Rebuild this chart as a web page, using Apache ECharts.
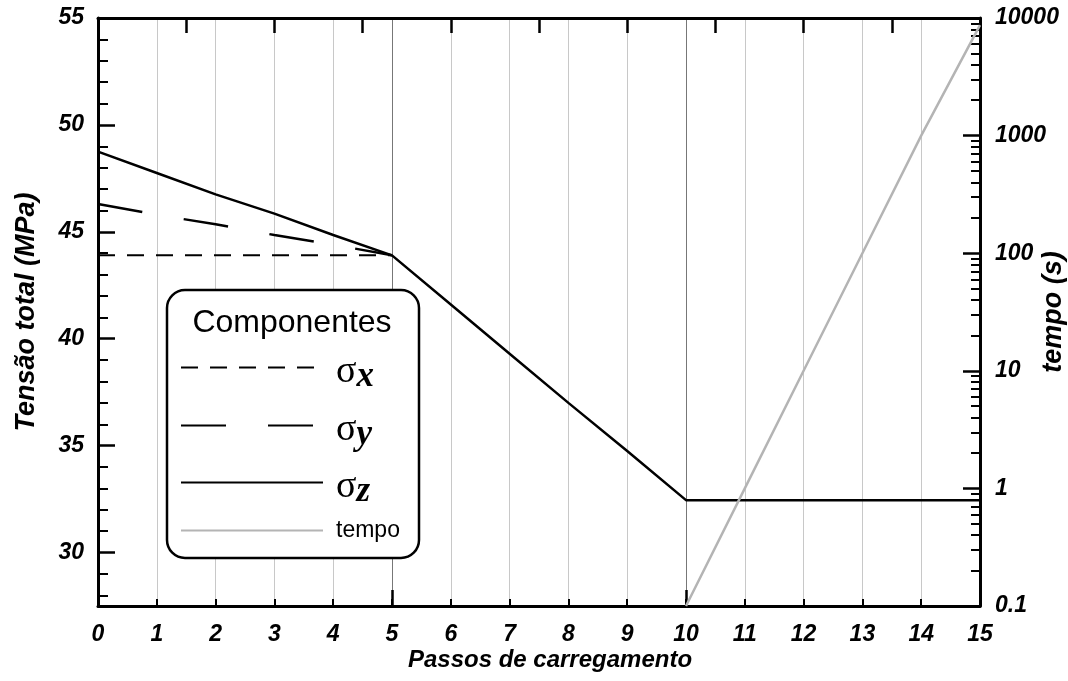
<!DOCTYPE html>
<html><head><meta charset="utf-8">
<script src="https://cdn.jsdelivr.net/npm/echarts@6/dist/echarts.min.js"></script>
<style>html,body{margin:0;padding:0;background:#fff}#c{width:1068px;height:681px}</style>
</head><body><div id="c"></div>
<script>
// ---- data ----
const steps  = [0,1,2,3,4,5,6,7,8,9,10,11,12,13,14,15];
const sigmaX = [43.9,43.9,43.9,43.9,43.9,43.9,null,null,null,null,null,null,null,null,null,null];
const sigmaY = [46.3,45.8,45.35,44.85,44.4,43.9,null,null,null,null,null,null,null,null,null,null];
const sigmaZ = [48.75,47.75,46.75,45.85,44.85,43.9,41.6,39.3,37.0,34.75,32.45,32.45,32.45,32.45,32.45,32.45];
const tempo  = [null,null,null,null,null,null,null,null,null,null,0.1,1,10,100,1000,8700];
const leftMajorTicks = [30,35,40,45,50,55];
const leftMinorTicks = [28,29,31,32,33,34,36,37,38,39,41,42,43,44,46,47,48,49,51,52,53,54];
const rightMinorTicks = [0.2,0.3,0.4,0.5,0.6,0.7,0.8,0.9,2,3,4,5,6,7,8,9,20,30,40,50,60,70,80,90,
                         200,300,400,500,600,700,800,900,2000,3000,4000,5000,6000,7000,8000,9000];

const pairs = arr => steps.map((s,i) => [s, arr[i]]);
const F = 'Liberation Sans';
const tickFont = {color:'#000', fontSize:23, fontWeight:'bold', fontStyle:'italic', fontFamily:F};
const xNameFont = {color:'#000', fontSize:24, fontWeight:'bold', fontStyle:'italic', fontFamily:F, padding:[0,0,0,22]};
const yNameFont = {color:'#000', fontSize:27, fontWeight:'bold', fontStyle:'italic', fontFamily:F};
const rich = {
  s:{fontFamily:'Liberation Serif', fontSize:38, color:'#000', lineHeight:40},
  i:{fontFamily:'Liberation Serif', fontSize:35, fontStyle:'italic', fontWeight:'bold', color:'#000', lineHeight:40, padding:[8,0,0,0]},
  t:{fontFamily:F, fontSize:23, color:'#000', lineHeight:26}
};
const legendFmt = n => n === 'tempo' ? '{t|tempo}' : '{s|σ}{i|' + n.slice(1) + '}';
function mkLegend(name, top, w, pad, padTop){
  return {data:[name], left:180, top:top, itemWidth:w, itemHeight:10, padding:0,
    selectedMode:false, formatter:legendFmt, itemStyle:{opacity:0},
    textStyle:{rich:rich, padding:[padTop,0,0,pad]}, z:6};
}

const chart = echarts.init(document.getElementById('c'));
chart.setOption({
  animation:false,
  backgroundColor:'#fff',
  grid:{left:98, right:88, top:18, bottom:75, containLabel:false, outerBoundsMode:'none'},
  xAxis:[
    {type:'value', min:0, max:15, interval:1, position:'bottom',
     axisLine:{onZero:false, lineStyle:{color:'#000', width:3}},
     axisTick:{inside:true, length:7, lineStyle:{color:'#000', width:2}},
     axisLabel:Object.assign({margin:17}, tickFont),
     splitLine:{show:true, lineStyle:{color:['#777','#c8c8c8','#c8c8c8','#c8c8c8','#c8c8c8'], width:1}},
     name:'Passos de carregamento', nameLocation:'middle', nameGap:42, nameMoveOverlap:false, nameTextStyle:xNameFont},
    {type:'value', min:0, max:15, interval:5, position:'bottom',
     axisLine:{show:false, onZero:false}, axisTick:{inside:true, length:16, lineStyle:{color:'#000', width:2.5}},
     axisLabel:{show:false}, splitLine:{show:false}},
    {type:'value', min:0, max:15, interval:1.5, position:'top',
     axisLine:{show:true, onZero:false, lineStyle:{color:'#000', width:3}},
     axisTick:{show:true, inside:true, length:15, lineStyle:{color:'#000', width:2.5}},
     axisLabel:{show:false}, splitLine:{show:false}}
  ],
  yAxis:[
    {type:'value', min:27.5, max:55, position:'left',
     axisLine:{show:true, onZero:false, lineStyle:{color:'#000', width:3}},
     axisTick:{show:true, inside:true, length:17, customValues:leftMajorTicks, lineStyle:{color:'#000', width:2.5}},
     axisLabel:Object.assign({margin:14, customValues:leftMajorTicks}, tickFont),
     splitLine:{show:false},
     name:'Tensão total (MPa)', nameLocation:'middle', nameGap:58, nameRotate:90, nameMoveOverlap:false, nameTextStyle:yNameFont},
    {type:'log', logBase:10, min:0.1, max:10000, position:'right',
     axisLine:{show:true, onZero:false, lineStyle:{color:'#000', width:3}},
     axisTick:{show:true, inside:true, length:17, lineStyle:{color:'#000', width:2.5}},
     axisLabel:Object.assign({margin:15, formatter:v => String(+(+v).toPrecision(6))}, tickFont),
     splitLine:{show:false},
     name:'tempo (s)', nameLocation:'middle', nameGap:60, nameRotate:90, nameMoveOverlap:false, nameTextStyle:yNameFont},
    {type:'value', min:27.5, max:55, position:'left',
     axisLine:{show:false, onZero:false},
     axisTick:{show:true, inside:true, length:10, customValues:leftMinorTicks, lineStyle:{color:'#000', width:2}},
     axisLabel:{show:false}, splitLine:{show:false}},
    {type:'value', min:-1, max:4, position:'right',
     axisLine:{show:false, onZero:false},
     axisTick:{show:true, inside:true, length:9, customValues:rightMinorTicks.map(v => Math.log10(v)), lineStyle:{color:'#000', width:2}},
     axisLabel:{show:false}, splitLine:{show:false}}
  ],
  legend:[
    mkLegend('σx', 351, 135, 15, 10),
    mkLegend('σy', 409, 135, 15, 10),
    mkLegend('σz', 466, 142, 8, 10),
    mkLegend('tempo', 519, 142, 8, 0)
  ],
  graphic:[
    {type:'rect', z:3, shape:{x:167, y:290, width:252, height:268, r:18},
     style:{fill:'#fff', stroke:'#000', lineWidth:2.5}},
    {type:'text', z:5, x:292, y:323,
     style:{text:'Componentes', fontSize:32, fontFamily:F, fill:'#000', align:'center', verticalAlign:'middle'}}
  ],
  series:[
    {name:'σx', type:'line', xAxisIndex:0, yAxisIndex:0, data:pairs(sigmaX), symbol:'none',
     lineStyle:{color:'#000', width:2, type:[17,12]}, itemStyle:{color:'#000'}},
    {name:'σy', type:'line', xAxisIndex:0, yAxisIndex:0, data:pairs(sigmaY), symbol:'none',
     lineStyle:{color:'#000', width:2.5, type:[45,42]}, itemStyle:{color:'#000'}},
    {name:'σz', type:'line', xAxisIndex:0, yAxisIndex:0, data:pairs(sigmaZ), symbol:'none',
     lineStyle:{color:'#000', width:2.5}, itemStyle:{color:'#000'}},
    {name:'tempo', type:'line', xAxisIndex:0, yAxisIndex:1, data:pairs(tempo), symbol:'none',
     lineStyle:{color:'#b4b4b4', width:2.5}, itemStyle:{color:'#b4b4b4'}}
  ]
});
</script></body></html>
